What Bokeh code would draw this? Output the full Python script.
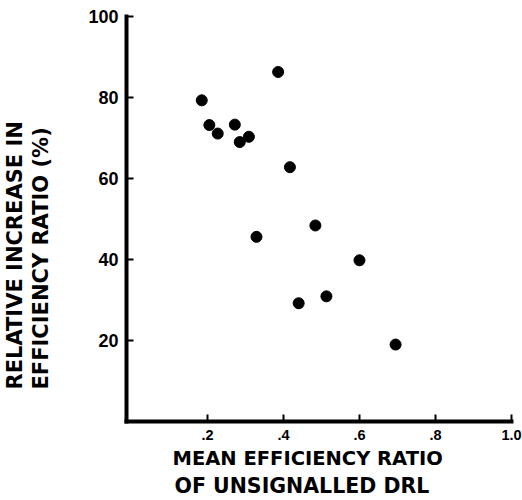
from bokeh.plotting import figure
from bokeh.models import Range1d, FixedTicker, Title
from bokeh.embed import file_html
from bokeh.resources import INLINE

# ---- data ----
efficiency = [0.185, 0.386, 0.205, 0.227, 0.272, 0.285, 0.309, 0.417,
              0.329, 0.484, 0.600, 0.440, 0.513, 0.695]
increase = [79.3, 86.3, 73.2, 71.1, 73.3, 69.0, 70.3, 62.8,
            45.6, 48.4, 39.8, 29.2, 30.9, 19.0]
x_ticks = [0.2, 0.4, 0.6, 0.8, 1.0]
x_tick_labels = [".2", ".4", ".6", ".8", "1.0"]
y_ticks = [20, 40, 60, 80, 100]
y_tick_labels = ["20", "40", "60", "80", "100"]
x_title = ["MEAN EFFICIENCY RATIO", "OF UNSIGNALLED DRL"]
y_title = ["RELATIVE INCREASE IN", "EFFICIENCY RATIO (%)"]

# ---- layout ----
W, H = 522, 500
FL, FR, FT, FB = 126, 511, 16, 421   # frame edges in px

p = figure(width=W, height=H, x_range=Range1d(-0.013, 1.0), y_range=Range1d(0, 100),
           output_backend="svg", toolbar_location=None,
           min_border_left=FL, min_border_right=W - FR,
           min_border_top=FT, min_border_bottom=H - FB)
p.outline_line_color = None
p.grid.visible = False
p.background_fill_color = "white"
p.border_fill_color = "white"

p.scatter(efficiency, increase, size=11, color="black")

TICK_FONT = "Liberation Sans"
for ax in (p.xaxis[0], p.yaxis[0]):
    ax.axis_line_width = 4
    ax.axis_line_color = "black"
    ax.axis_line_cap = "square"
    ax.major_tick_in = 7
    ax.major_tick_out = 0
    ax.major_tick_line_width = 2
    ax.major_tick_line_color = "black"
    ax.minor_tick_line_color = None
    ax.major_label_text_font = TICK_FONT
    ax.major_label_text_font_style = "bold"
    ax.major_label_text_color = "black"
    ax.major_label_standoff = 8

p.xaxis.ticker = FixedTicker(ticks=x_ticks)
p.xaxis.major_label_overrides = {t: l for t, l in zip(x_ticks, x_tick_labels)}
p.xaxis.major_label_text_font_size = "14.5px"

p.yaxis.ticker = FixedTicker(ticks=y_ticks)
p.yaxis.major_label_overrides = {t: l for t, l in zip(y_ticks, y_tick_labels)}
p.yaxis.major_label_text_font_size = "18px"

TITLE_FONT = "DejaVu Sans"


def title(text, offset, standoff, size):
    return Title(text=text, align="left", offset=offset, standoff=standoff,
                 text_font=TITLE_FONT, text_font_style="bold",
                 text_font_size=size, text_color="black")


# x title, two lines stacked below the axis
p.add_layout(title(x_title[0], 46, 4, "19.5px"), "below")
p.add_layout(title(x_title[1], 48, 0, "20.5px"), "below")
# y title: a blank spacer next to the axis, then inner line, then outer line
p.add_layout(title(" ", 0, 30, "1px"), "left")
p.add_layout(title(y_title[1], 32, 0, "21px"), "left")
p.add_layout(title(y_title[0], 32, 0, "21px"), "left")

open("out.html", "w").write(file_html(p, INLINE))
